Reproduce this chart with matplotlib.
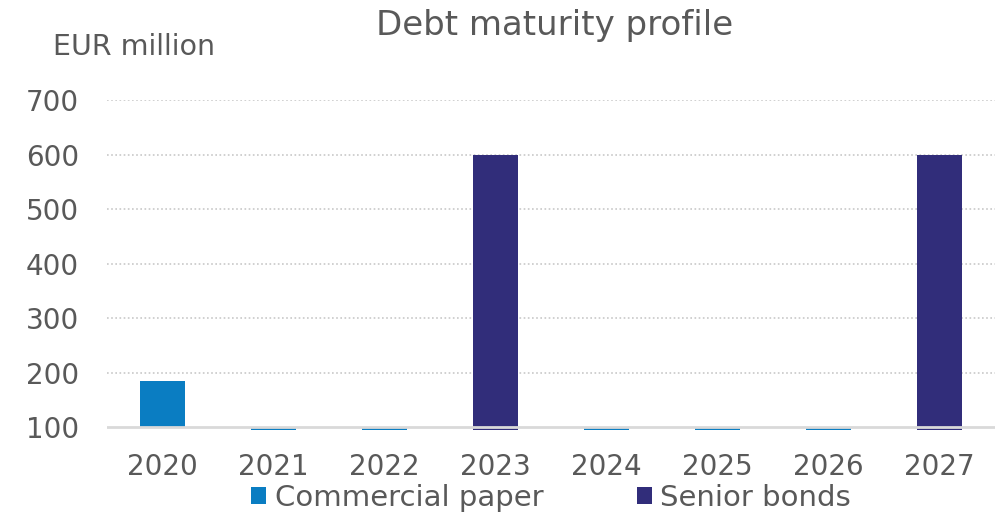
import matplotlib.pyplot as plt
import numpy as np

years = ['2020', '2021', '2022', '2023', '2024', '2025', '2026', '2027']
commercial_paper = [185, 0, 0, 0, 0, 0, 0, 0]
senior_bonds = [np.nan, np.nan, np.nan, 600, np.nan, np.nan, np.nan, 600]
y_ticks = [100, 200, 300, 400, 500, 600, 700]

cp_color = '#0A7DC2'
sb_color = '#312D7A'
text_color = '#595959'

plt.rcParams['font.family'] = ['DejaVu Sans']

fig = plt.figure(figsize=(9.99, 5.16), dpi=100)
ax = fig.add_axes([0.107, 0.167, 0.889, 0.639])

x = np.arange(len(years))
base = 100
cp = np.array(commercial_paper, dtype=float)
sb = np.array(senior_bonds, dtype=float)

# excel draws bars from the axis crossing (100), so zero values leave a sliver below it
ax.bar(x, cp - base, bottom=base, width=0.4, color=cp_color, label='Commercial paper', zorder=2)
mask = ~np.isnan(sb)
ax.bar(x[mask], sb[mask], bottom=cp[mask], width=0.4, color=sb_color, label='Senior bonds', zorder=3)

ax.set_xlim(-0.5, 7.5)
ax.set_ylim(95, 700)
ax.set_yticks(y_ticks)
ax.set_xticks(x)
ax.set_xticklabels(years)
for yv in y_ticks[1:]:
    ax.axhline(yv, color='#C8C8C8', lw=1.2, ls=(0, (1, 1.5)), zorder=1)
ax.axhline(base, color='#D9D9D9', lw=2, zorder=4)

for s in ax.spines.values():
    s.set_visible(False)
ax.tick_params(axis='both', length=0, labelsize=20, labelcolor=text_color)
ax.tick_params(axis='x', pad=17)
ax.tick_params(axis='y', pad=20)

fig.text(0.555, 0.950, 'Debt maturity profile', ha='center', va='center', fontsize=24.5, color=text_color)
fig.text(0.053, 0.909, 'EUR million', ha='left', va='center', fontsize=20.5, color=text_color)

leg = ax.legend(loc='center', bbox_to_anchor=(0.5, -0.206), ncol=2, frameon=False,
                fontsize=21, handlelength=0.52, handleheight=0.52, handletextpad=0.3,
                columnspacing=3.2, labelcolor=text_color)

fig.savefig('out.png', dpi=100)
